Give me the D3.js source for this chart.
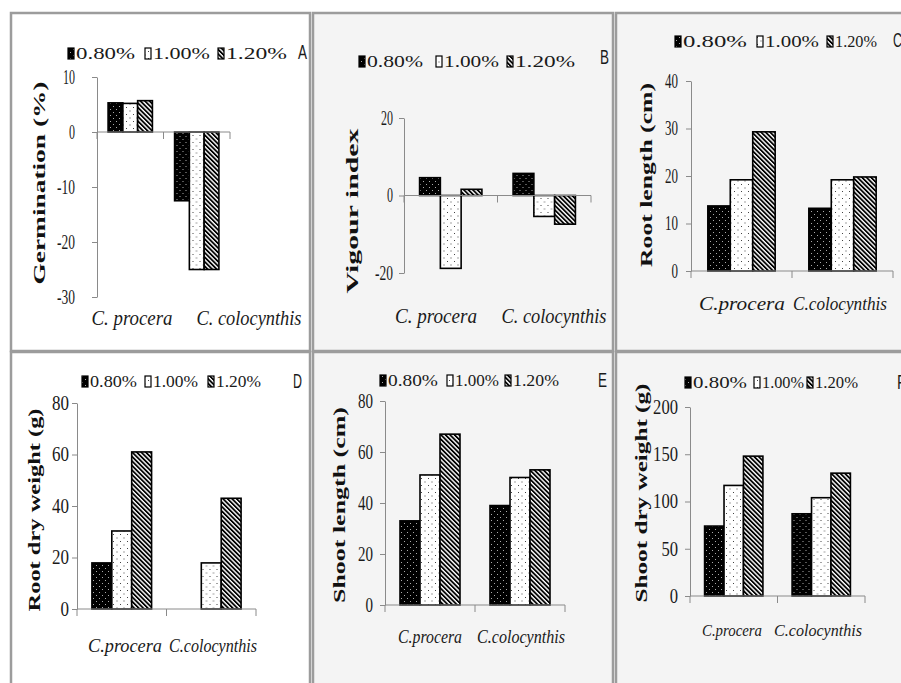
<!DOCTYPE html>
<html>
<head>
<meta charset="utf-8">
<script src="https://cdn.jsdelivr.net/npm/d3@7"></script>
<style>
  body { margin: 0; background: #fff; }
  svg { display: block; }
</style>
</head>
<body>
<script>
// concentrations and species
const series = ["0.80%", "1.00%", "1.20%"];
const speciesSpaced = ["C. procera", "C. colocynthis"];
const speciesTight = ["C.procera", "C.colocynthis"];

// values per species: [0.80%, 1.00%, 1.20%]
const germination = [[5.3, 5.2, 5.7], [-12.5, -25, -25]];
const vigourIndex = [[4.6, -18.8, 1.6], [5.7, -5.4, -7.4]];
const rootLength = [[13.7, 19.2, 29.3], [13.2, 19.2, 19.8]];
const rootDryWeight = [[17.9, 30.3, 61], [0, 17.9, 43]];
const shootLength = [[33, 51, 67], [39, 50, 53]];
const shootDryWeight = [[74, 117, 148], [87, 104, 130]];

// tick labels
const germinationTicks = [-30, -20, -10, 0, 10];
const vigourTicks = [-20, 0, 20];
const rootLengthTicks = [0, 10, 20, 30, 40];
const rootWeightTicks = [0, 20, 40, 60, 80];
const shootLengthTicks = [0, 20, 40, 60, 80];
const shootWeightTicks = [0, 50, 100, 150, 200];

const W = 901, H = 683;
const SERIF = "Liberation Serif, Times New Roman, serif";
const SANS = "Liberation Sans, Arial, sans-serif";

const panels = [
  { letter: "A", data: germination, ticks: germinationTicks, labels: speciesSpaced, title: "Germination (%)",
    bg: "#ffffff", box: [11, 13, 299, 338], axisX: 97, axisEnd: 230, yRange: [297, 77], pad: 17, digitW: 6,
    legendY: 59, legendX: [68, 145, 218], legendW: [59, 57, 61], letterX: 298, letterY: 59,
    titleX: 45, titleY: 183, titleLen: 203, labelY: 325, labelX: [132, 249], labelLen: [81, 105], labelFs: 20 },
  { letter: "B", data: vigourIndex, ticks: vigourTicks, labels: speciesSpaced, title: "Vigour index",
    bg: "#f4f4f4", box: [313, 13, 300, 338], axisX: 404, axisEnd: 591, yRange: [273, 118], pad: 6, digitW: 6,
    legendY: 67, legendX: [359, 436, 507], legendW: [56, 55, 60], letterX: 600, letterY: 64,
    titleX: 358, titleY: 211, titleLen: 165, labelY: 323, labelX: [436, 554], labelLen: [82, 105], labelFs: 20 },
  { letter: "C", data: rootLength, ticks: rootLengthTicks, labels: speciesTight, title: "Root length (cm)",
    bg: "#f4f4f4", box: [616, 13, 300, 338], axisX: 691, axisEnd: 893, yRange: [271, 81], pad: 8, digitW: 6.5,
    legendY: 47, legendX: [675, 757, 827], legendW: [64, 54, 42], letterX: 893, letterY: 47,
    titleX: 652, titleY: 175, titleLen: 184, labelY: 310, labelX: [742, 840], labelLen: [86, 94], labelFs: 19 },
  { letter: "D", data: rootDryWeight, ticks: rootWeightTicks, labels: speciesTight, title: "Root dry weight (g)",
    bg: "#ffffff", box: [11, 352, 299, 345], axisX: 77, axisEnd: 256, yRange: [609, 403], pad: 3, digitW: 8.5,
    legendY: 387, legendX: [82, 145, 208], legendW: [47, 45, 45], letterX: 293, letterY: 388,
    titleX: 40, titleY: 510, titleLen: 203, labelY: 652, labelX: [125, 213], labelLen: [74, 88], labelFs: 19 },
  { letter: "E", data: shootLength, ticks: shootLengthTicks, labels: speciesTight, title: "Shoot length (cm)",
    bg: "#f4f4f4", box: [313, 352, 300, 345], axisX: 385, axisEnd: 565, yRange: [605, 401], pad: 7, digitW: 7.5,
    legendY: 386, legendX: [380, 447, 505], legendW: [50, 44, 46], letterX: 598, letterY: 387,
    titleX: 345, titleY: 505, titleLen: 196, labelY: 643, labelX: [430, 521], labelLen: [64, 88], labelFs: 19 },
  { letter: "F", data: shootDryWeight, ticks: shootWeightTicks, labels: speciesTight, title: "Shoot dry weight (g)",
    bg: "#f4f4f4", box: [616, 352, 300, 345], axisX: 690, axisEnd: 865, yRange: [596, 407], pad: 7, digitW: 8.3,
    legendY: 388, legendX: [685, 754, 807], legendW: [54, 42, 43], letterX: 897, letterY: 389,
    titleX: 647, titleY: 493, titleLen: 219, labelY: 636, labelX: [732, 818], labelLen: [60, 88], labelFs: 17 }
];

const svg = d3.select("body").append("svg")
  .attr("width", W)
  .attr("height", H)
  .style("background", "#fff");

// fill patterns for the three concentrations
const defs = svg.append("defs");
const p80 = defs.append("pattern").attr("id", "p80").attr("patternUnits", "userSpaceOnUse")
  .attr("width", 6).attr("height", 6);
p80.append("rect").attr("width", 6).attr("height", 6).attr("fill", "#000");
p80.append("rect").attr("x", 1).attr("y", 1).attr("width", 1).attr("height", 1).attr("fill", "#aaa");
p80.append("rect").attr("x", 4).attr("y", 4).attr("width", 1).attr("height", 1).attr("fill", "#aaa");

const p100 = defs.append("pattern").attr("id", "p100").attr("patternUnits", "userSpaceOnUse")
  .attr("width", 7).attr("height", 7);
p100.append("rect").attr("width", 7).attr("height", 7).attr("fill", "#fff");
p100.append("rect").attr("x", 1).attr("y", 2).attr("width", 1).attr("height", 1).attr("fill", "#444");
p100.append("rect").attr("x", 4.5).attr("y", 5.5).attr("width", 1).attr("height", 1).attr("fill", "#444");

const p120 = defs.append("pattern").attr("id", "p120").attr("patternUnits", "userSpaceOnUse")
  .attr("width", 3.2).attr("height", 3.2).attr("patternTransform", "rotate(-45)");
p120.append("rect").attr("width", 3.2).attr("height", 3.2).attr("fill", "#fff");
p120.append("rect").attr("width", 1.8).attr("height", 3.2).attr("fill", "#000");

const fills = ["url(#p80)", "url(#p100)", "url(#p120)"];

panels.forEach(p => {
  const g = svg.append("g");
  const [bx, by, bw, bh] = p.box;

  g.append("rect")
    .attr("x", bx).attr("y", by).attr("width", bw).attr("height", bh)
    .attr("fill", p.bg).attr("stroke", "#9c9c9c").attr("stroke-width", 2.5);

  const y = d3.scaleLinear()
    .domain([p.ticks[0], p.ticks[p.ticks.length - 1]])
    .range(p.yRange);
  const x0 = d3.scaleBand().domain([0, 1]).range([p.axisX, p.axisEnd]);
  const x1 = d3.scaleBand().domain(series).range([0, x0.bandwidth()]).paddingOuter(0.75);

  // bars
  const groups = g.selectAll(".grp").data(p.data).join("g")
    .attr("transform", (d, i) => `translate(${x0(i)},0)`);
  groups.selectAll("rect")
    .data(d => d.map((v, j) => ({ v, s: series[j], j })).filter(e => e.v !== 0))
    .join("rect")
    .attr("x", e => x1(e.s))
    .attr("width", x1.bandwidth())
    .attr("y", e => y(Math.max(0, e.v)))
    .attr("height", e => Math.abs(y(e.v) - y(0)))
    .attr("fill", e => fills[e.j])
    .attr("stroke", "#000")
    .attr("stroke-width", 1.6);

  // y axis
  const ax = g.append("g")
    .attr("transform", `translate(${p.axisX},0)`)
    .call(d3.axisLeft(y).tickValues(p.ticks).tickSize(5).tickSizeOuter(0)
      .tickPadding(p.pad).tickFormat(d => String(d)));
  ax.select(".domain").attr("stroke", "#8a8a8a");
  ax.selectAll(".tick line").attr("stroke", "#8a8a8a");
  ax.selectAll(".tick text")
    .attr("font-family", SERIF)
    .attr("font-size", 20)
    .attr("fill", "#1a1a1a")
    .attr("textLength", d => String(d).length * p.digitW)
    .attr("lengthAdjust", "spacingAndGlyphs");

  // x axis line at zero with category boundary ticks
  const y0 = y(0);
  g.append("line")
    .attr("x1", p.axisX).attr("x2", p.axisEnd).attr("y1", y0).attr("y2", y0)
    .attr("stroke", "#8a8a8a");
  const bounds = [p.axisX].concat([0, 1].map(i => x0(i) + x0.bandwidth()));
  g.selectAll(".xt").data(bounds).join("line")
    .attr("x1", d => d).attr("x2", d => d)
    .attr("y1", y0).attr("y2", y0 + 7)
    .attr("stroke", "#8a8a8a");

  // category labels
  g.selectAll(".cat").data(p.labels).join("text")
    .attr("x", (d, i) => p.labelX[i])
    .attr("y", p.labelY)
    .attr("text-anchor", "middle")
    .attr("font-family", SERIF)
    .attr("font-style", "italic")
    .attr("font-size", p.labelFs)
    .attr("fill", "#1a1a1a")
    .attr("textLength", (d, i) => p.labelLen[i])
    .attr("lengthAdjust", "spacingAndGlyphs")
    .text(d => d);

  // y title
  g.append("text")
    .attr("transform", `translate(${p.titleX},${p.titleY}) rotate(-90)`)
    .attr("text-anchor", "middle")
    .attr("font-family", SERIF)
    .attr("font-weight", "bold")
    .attr("font-size", 17)
    .attr("fill", "#111")
    .attr("textLength", p.titleLen)
    .attr("lengthAdjust", "spacingAndGlyphs")
    .text(p.title);

  // legend
  series.forEach((s, j) => {
    const lx = p.legendX[j];
    g.append("rect")
      .attr("x", lx).attr("y", p.legendY - 11).attr("width", 6).attr("height", 11)
      .attr("fill", fills[j]).attr("stroke", "#000").attr("stroke-width", 1.2);
    g.append("text")
      .attr("x", lx + 8).attr("y", p.legendY)
      .attr("font-family", SERIF)
      .attr("font-size", 17)
      .attr("fill", "#1a1a1a")
      .attr("textLength", p.legendW[j])
      .attr("lengthAdjust", "spacingAndGlyphs")
      .text(s);
  });

  // panel letter
  g.append("text")
    .attr("x", p.letterX).attr("y", p.letterY)
    .attr("font-family", SANS)
    .attr("font-size", 20)
    .attr("fill", "#1a1a1a")
    .attr("textLength", 9)
    .attr("lengthAdjust", "spacingAndGlyphs")
    .text(p.letter);
});
</script>
</body>
</html>
